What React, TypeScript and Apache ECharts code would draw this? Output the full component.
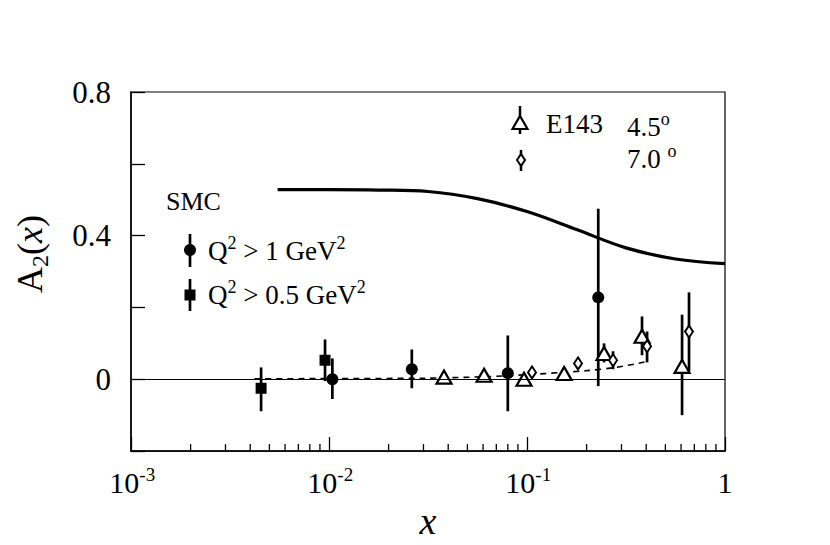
import React, { useEffect, useRef } from "react";
import * as echarts from "echarts";

const FONT = "Liberation Serif, Times New Roman, DejaVu Serif, serif";

// SMC Q^2 > 1 GeV^2 (filled circles)
const smc1X = [0.0104, 0.0262, 0.08, 0.229];
const smc1Y = [0.0, 0.028, 0.017, 0.228];
const smc1Lo = [-0.055, -0.025, -0.089, -0.019];
const smc1Hi = [0.058, 0.083, 0.122, 0.475];

// SMC Q^2 > 0.5 GeV^2 (filled squares)
const smc05X = [0.00454, 0.00955];
const smc05Y = [-0.025, 0.053];
const smc05Lo = [-0.089, -0.005];
const smc05Hi = [0.033, 0.111];

// E143 4.5 deg (open triangles)
const e45X = [0.0381, 0.0607, 0.0966, 0.154, 0.245, 0.381, 0.607];
const e45Y = [0.006, 0.011, 0.0, 0.016, 0.072, 0.12, 0.036];
const e45Lo = [-0.004, 0.001, -0.01, 0.006, 0.047, 0.067, -0.1];
const e45Hi = [0.016, 0.021, 0.01, 0.026, 0.1, 0.175, 0.18];

// E143 7.0 deg (open diamonds)
const e70X = [0.106, 0.181, 0.272, 0.404, 0.658];
const e70Y = [0.019, 0.044, 0.053, 0.092, 0.133];
const e70Lo = [0.005, 0.03, 0.028, 0.047, 0.022];
const e70Hi = [0.033, 0.058, 0.078, 0.133, 0.242];

// dashed fit curve
const fitX = [0.0042, 0.01, 0.03, 0.06, 0.1, 0.15, 0.2, 0.28, 0.41];
const fitY = [0.001, 0.002, 0.003, 0.007, 0.013, 0.019, 0.024, 0.033, 0.05];

// solid bound curve (read at log-spaced positions)
const boundX = [0.0055, 0.01, 0.0178, 0.0316, 0.0562, 0.1, 0.178, 0.316, 0.562, 1.0];
const boundY = [0.528, 0.528, 0.527, 0.523, 0.503, 0.467, 0.417, 0.366, 0.335, 0.322];

// axis ticks
const yLabels = ["0", "0.4", "0.8"];
const decades = [0.001, 0.01, 0.1];
const minorMult = [2, 3, 4, 5, 6, 7, 8, 9];
const minorTicks: number[] = [];
decades.forEach((d) => minorMult.forEach((m) => minorTicks.push(d * m)));

const Y_MIN = -0.2;
const Y_MAX = 0.8;

const zip = (xs: number[], ys: number[]) => xs.map((x, i) => [x, ys[i]]);
const errData = (xs: number[], lo: number[], hi: number[]) => xs.map((x, i) => [x, lo[i], hi[i]]);

const supRich = {
  n: { fontSize: 27, fontFamily: FONT, color: "#000", lineHeight: 30, verticalAlign: "bottom" },
  sup: { fontSize: 18, fontFamily: FONT, color: "#000", lineHeight: 30, verticalAlign: "top" },
};
const axisRich = {
  n: { fontSize: 30, fontFamily: FONT, color: "#000", lineHeight: 32, verticalAlign: "bottom" },
  sup: { fontSize: 19, fontFamily: FONT, color: "#000", lineHeight: 32, verticalAlign: "top" },
  sp: { fontSize: 10, fontFamily: FONT, color: "transparent", lineHeight: 32 },
};

export default function App() {
  const ref = useRef<HTMLDivElement>(null);
  useEffect(() => {
    if (!ref.current) return;
    const chart = echarts.init(ref.current, null, { renderer: "svg" });

    const errSeries = (xs: number[], lo: number[], hi: number[]) => ({
      type: "custom",
      silent: true,
      renderItem: (params: any, api: any) => {
        const x = api.value(0);
        const p1 = api.coord([x, api.value(1)]);
        const p2 = api.coord([x, api.value(2)]);
        return {
          type: "line",
          shape: { x1: p1[0], y1: p1[1], x2: p2[0], y2: p2[1] },
          style: { stroke: "#000", lineWidth: 2.7 },
        };
      },
      encode: { x: 0, y: [1, 2] },
      data: errData(xs, lo, hi),
      z: 3,
    });

    const option: any = {
      animation: false,
      backgroundColor: "#fff",
      grid: { left: 131, right: 105, top: 92, bottom: 92, show: true, borderColor: "#000", borderWidth: 1.2, backgroundColor: "transparent" },
      xAxis: {
        type: "log",
        logBase: 10,
        min: 0.001,
        max: 1,
        axisLine: { onZero: false, lineStyle: { color: "#000", width: 1.5 } },
        axisTick: { inside: true, length: 14, lineStyle: { color: "#000", width: 1.3 } },
        splitLine: { show: false },
        minorTick: { show: false },
        axisLabel: {
          margin: 14,
          formatter: (v: number) => {
            const e = Math.round(Math.log10(v));
            if (e === 0) return "{n|1}";
            return "{sp|.}{n|10}{sup|" + e + "}";
          },
          rich: axisRich,
        },
        name: "x",
        nameLocation: "middle",
        nameGap: 36,
        nameTextStyle: { fontFamily: FONT, fontSize: 38, fontStyle: "italic", color: "#000" },
      },
      yAxis: {
        type: "value",
        min: Y_MIN,
        max: Y_MAX,
        interval: 0.2,
        axisLine: { lineStyle: { color: "#000", width: 1.5 } },
        axisTick: { inside: true, length: 14, lineStyle: { color: "#000", width: 1.3 } },
        splitLine: { show: false },
        axisLabel: {
          margin: 20,
          fontFamily: FONT,
          fontSize: 31,
          color: "#000",
          formatter: (v: number) => {
            const s = Math.abs(v) < 1e-9 ? "0" : (Math.round(v * 10) / 10).toString();
            return yLabels.indexOf(s) >= 0 ? s : "";
          },
        },
      },
      series: [
        // minor ticks on the x axis
        {
          type: "custom",
          silent: true,
          renderItem: (params: any, api: any) => {
            const p = api.coord([api.value(0), Y_MIN]);
            return {
              type: "line",
              shape: { x1: p[0], y1: p[1], x2: p[0], y2: p[1] - 7 },
              style: { stroke: "#000", lineWidth: 1.3 },
            };
          },
          encode: { x: 0 },
          data: minorTicks.map((v) => [v]),
          clip: false,
        },
        // zero line
        {
          type: "line",
          data: [],
          silent: true,
          markLine: {
            silent: true,
            symbol: "none",
            label: { show: false },
            lineStyle: { color: "#000", width: 1, type: "solid" },
            data: [{ yAxis: 0 }],
          },
        },
        {
          type: "line",
          data: zip(boundX, boundY),
          smooth: 0.35,
          showSymbol: false,
          symbol: "none",
          lineStyle: { color: "#000", width: 3.2 },
          silent: true,
        },
        {
          type: "line",
          data: zip(fitX, fitY),
          smooth: 0.3,
          symbol: "none",
          lineStyle: { color: "#000", width: 1.6, type: [6, 5] },
          silent: true,
        },
        errSeries(smc1X, smc1Lo, smc1Hi),
        errSeries(smc05X, smc05Lo, smc05Hi),
        errSeries(e45X, e45Lo, e45Hi),
        errSeries(e70X, e70Lo, e70Hi),
        {
          type: "scatter",
          data: zip(smc1X, smc1Y),
          symbol: "circle",
          symbolSize: 12,
          itemStyle: { color: "#000", opacity: 1 },
          z: 4,
        },
        {
          type: "scatter",
          data: zip(smc05X, smc05Y),
          symbol: "rect",
          symbolSize: 11,
          itemStyle: { color: "#000", opacity: 1 },
          z: 4,
        },
        {
          type: "scatter",
          data: zip(e45X, e45Y),
          symbol: "triangle",
          symbolSize: [15, 13],
          itemStyle: { color: "#fff", borderColor: "#000", borderWidth: 2.2, opacity: 1 },
          z: 4,
        },
        {
          type: "scatter",
          data: zip(e70X, e70Y),
          symbol: "diamond",
          symbolSize: [8, 12],
          itemStyle: { color: "#fff", borderColor: "#000", borderWidth: 2, opacity: 1 },
          z: 4,
        },
      ],
      graphic: [
        {
          type: "text",
          x: 32,
          y: 254,
          rotation: Math.PI / 2,
          style: {
            text: "{n|A}{sub|2}{n|(}{i|x}{n|)}",
            align: "center",
            verticalAlign: "middle",
            rich: {
              n: { fontFamily: FONT, fontSize: 36, color: "#000", lineHeight: 40, verticalAlign: "top" },
              i: { fontFamily: FONT, fontSize: 36, fontStyle: "italic", color: "#000", lineHeight: 40, verticalAlign: "top" },
              sub: { fontFamily: FONT, fontSize: 24, color: "#000", lineHeight: 40, verticalAlign: "bottom" },
            },
          },
        },
        { type: "text", left: 166, top: 188, style: { text: "SMC", font: "26px " + FONT, fill: "#000" } },
        { type: "line", shape: { x1: 190, y1: 234, x2: 190, y2: 267 }, style: { stroke: "#000", lineWidth: 2.7 } },
        { type: "circle", shape: { cx: 190, cy: 250, r: 6 }, style: { fill: "#000" } },
        {
          type: "text",
          left: 208,
          top: 234,
          style: { text: "{n|Q}{sup|2}{n| > 1 GeV}{sup|2}", rich: supRich },
        },
        { type: "line", shape: { x1: 190, y1: 279, x2: 190, y2: 311 }, style: { stroke: "#000", lineWidth: 2.7 } },
        { type: "rect", shape: { x: 184.5, y: 289.5, width: 11, height: 11 }, style: { fill: "#000" } },
        {
          type: "text",
          left: 208,
          top: 278,
          style: { text: "{n|Q}{sup|2}{n| > 0.5 GeV}{sup|2}", rich: supRich },
        },
        { type: "line", shape: { x1: 520, y1: 106, x2: 520, y2: 134 }, style: { stroke: "#000", lineWidth: 2.5 } },
        {
          type: "polygon",
          shape: { points: [[520, 116], [527.5, 129], [512.5, 129]] },
          style: { fill: "#fff", stroke: "#000", lineWidth: 2.2 },
        },
        { type: "text", left: 546, top: 110, style: { text: "{n|E143}", rich: supRich } },
        { type: "text", left: 627, top: 110, style: { text: "{n|4.5}{sup|o}", rich: supRich } },
        { type: "line", shape: { x1: 521, y1: 150, x2: 521, y2: 171 }, style: { stroke: "#000", lineWidth: 2.5 } },
        {
          type: "polygon",
          shape: { points: [[521, 154], [525, 160], [521, 166], [517, 160]] },
          style: { fill: "#fff", stroke: "#000", lineWidth: 2 },
        },
        { type: "text", left: 627, top: 142, style: { text: "{n|7.0 }{sup|o}", rich: supRich } },
      ],
    };
    chart.setOption(option);
    return () => chart.dispose();
  }, []);
  return (
    <div
      ref={ref}
      style={{ position: "fixed", left: 0, top: 0, width: 830, height: 545, background: "#fff" }}
    />
  );
}
